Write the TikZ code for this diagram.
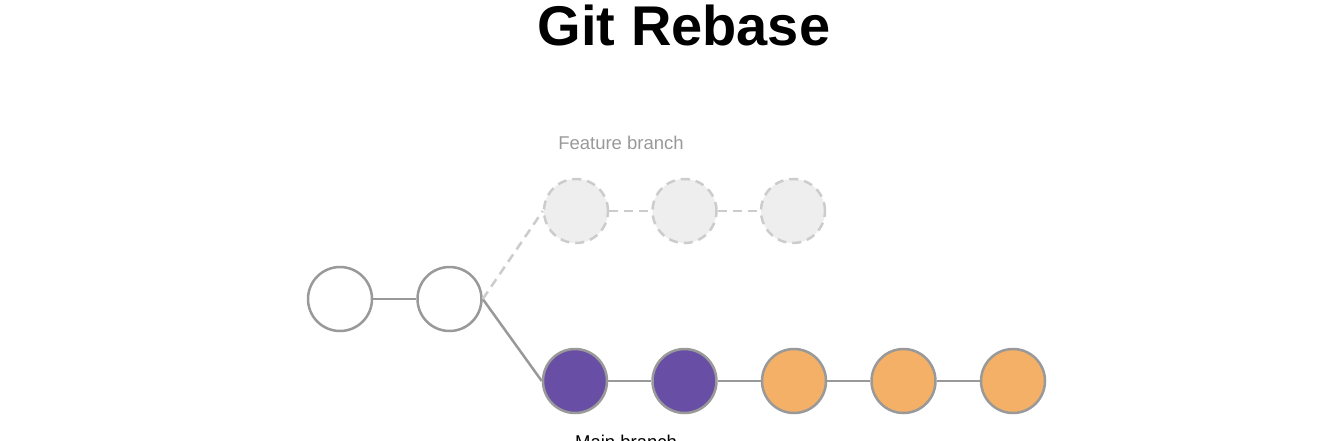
\documentclass[tikz,border=0pt]{standalone}
\usepackage{fontspec}
\setmainfont{Liberation Sans}
\usepackage{xcolor}
\usetikzlibrary{positioning}
\definecolor{LineGray}{RGB}{153,153,153}
\definecolor{GhostFill}{RGB}{238,238,238}
\definecolor{GhostLine}{RGB}{204,204,204}
\definecolor{RebasePurple}{RGB}{104,78,164}
\definecolor{RebaseOrange}{RGB}{245,176,104}

\begin{document}
\begin{tikzpicture}[x=1pt,y=-1pt,
        commit/.style={circle, draw=LineGray, line width=2.5pt, minimum size=64pt, inner sep=0pt},
        ghost/.style={commit, draw=GhostLine, fill=GhostFill, dash pattern=on 9pt off 6pt},
        link/.style={draw=LineGray, line width=2.5pt},
        ghostlink/.style={draw=GhostLine, line width=2.5pt, dash pattern=on 9pt off 6pt},
        node distance=43pt
    ]
        \useasboundingbox (0,0) rectangle (1320,440);
        % tieu de
        \node[font=\fontsize{56}{60}\selectfont\bfseries] (title) at (684,25) {Git Rebase};
        % nhanh chung
        \node[commit, fill=white] (c1) at (340,299) {};
        \node[commit, fill=white, right=of c1] (c2) {};
        % nhanh feature (cu)
        \node[ghost] (f1) at (576,211) {};
        \node[ghost, right=42pt of f1] (f2) {};
        \node[ghost, right=42pt of f2] (f3) {};
        % nhanh main sau khi rebase
        \node[commit, fill=RebasePurple] (m1) at (575,381) {};
        \node[commit, fill=RebasePurple, right=of m1] (m2) {};
        \node[commit, fill=RebaseOrange, right=of m2] (m3) {};
        \node[commit, fill=RebaseOrange, right=of m3] (m4) {};
        \node[commit, fill=RebaseOrange, right=of m4] (m5) {};
        % nhan
        \node[text=LineGray, font=\fontsize{18.5}{20}\selectfont] (flabel) at (621,143) {Feature branch};
        \node[text=black, font=\fontsize{18.5}{20}\selectfont] (mlabel) at (626,442) {Main branch};
        % duong noi
        \draw[link] (c1) -- (c2);
        \draw[link] (c2.east) -- (m1.west);
        \draw[ghostlink] (c2.east) -- (f1.west);
        \draw[ghostlink] (f1) -- (f2);
        \draw[ghostlink] (f2) -- (f3);
        \draw[link] (m1) -- (m2);
        \draw[link] (m2) -- (m3);
        \draw[link] (m3) -- (m4);
        \draw[link] (m4) -- (m5);
    \end{tikzpicture}
\end{document}
